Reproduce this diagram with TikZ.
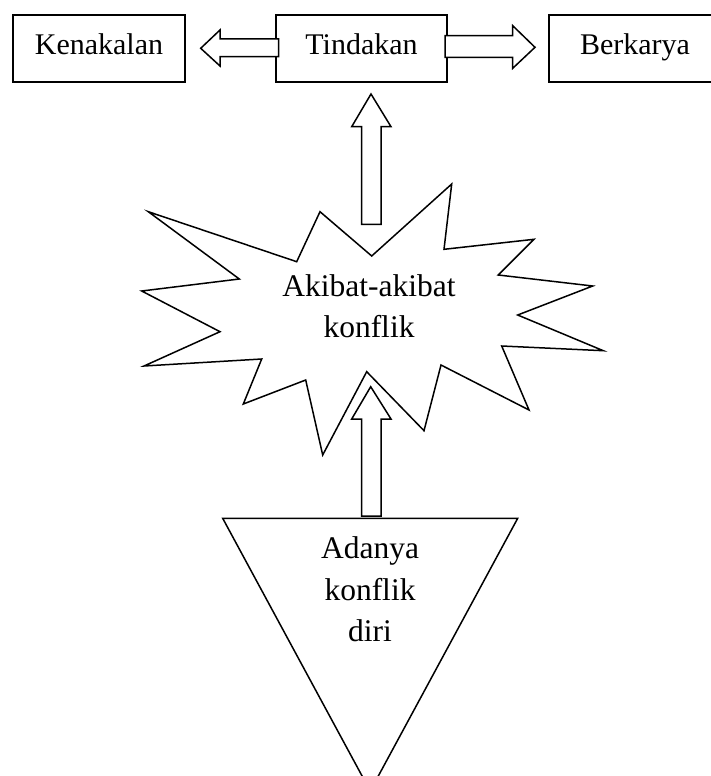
\documentclass[tikz,border=0pt]{standalone}
\usepackage{fontspec}
\setmainfont{Liberation Serif}
\begin{document}
\begin{tikzpicture}[x=1pt,y=-1pt,
  outline/.style={draw=black,line width=1.5pt,line join=miter},
  boxnode/.style={outline,minimum width=172pt,minimum height=67pt,inner sep=0pt,
    text height=20pt,text depth=7pt,
    font=\fontsize{30}{34}\selectfont},
  blockarrow/.style={outline,fill=white},
  lbl/.style={anchor=base,inner sep=0pt,font=\fontsize{31.5}{36}\selectfont}]
\useasboundingbox (0,0) rectangle (710,776);
\fill[white] (0,0) rectangle (710,776);

% top boxes
\node[boxnode] (ken) at (99,48.3) {Kenakalan};
\node[boxnode,minimum width=171pt] (tin) at (361.5,48.3) {Tindakan};
\node[boxnode] (ber) at (635,48.3) {Berkarya};

% left block arrow (Tindakan -> Kenakalan)
\draw[blockarrow] (278.7,39) -- (220,39) -- (220,30) -- (200.7,48.3) -- (220,66) -- (220,56.7) -- (278.7,56.7) -- cycle;
% right block arrow (Tindakan -> Berkarya)
\draw[blockarrow] (445,35.7) -- (512.7,35.7) -- (512.7,25.7) -- (535,47.3) -- (512.7,68.3) -- (512.7,57.3) -- (445,57.3) -- cycle;

% starburst
\draw[outline] (371.7,256) -- (451.7,184) -- (444,249.3) -- (534,239.3) -- (498.3,275)
  -- (592.7,286) -- (517.7,315) -- (603.3,350.7) -- (501.7,346) -- (529,410)
  -- (441,365) -- (424,430.7) -- (366.7,371.7) -- (322.7,455) -- (305.7,380)
  -- (243.3,404) -- (261.7,359) -- (144,366) -- (220,331.7) -- (141.7,291)
  -- (239.3,279) -- (148.3,211.7) -- (296.7,261.7) -- (320,211.7) -- cycle;
\node[lbl] (ak1) at (369,296.7) {Akibat-akibat};
\node[lbl] (ak2) at (369,337.7) {konflik};

% up arrow starburst -> Tindakan
\draw[blockarrow] (361.7,224.3) -- (361.7,126.7) -- (351.7,126.7) -- (371,94) -- (391,126.7) -- (381,126.7) -- (381,224.3) -- cycle;

% triangle
\draw[outline] (222.7,518.3) -- (517.7,518.3) -- (370.2,791) -- cycle;
\node[lbl] (ad1) at (370,558.3) {Adanya};
\node[lbl] (ad2) at (370,600.5) {konflik};
\node[lbl] (ad3) at (370,641.7) {diri};

% up arrow triangle -> starburst
\draw[blockarrow] (361.7,516) -- (361.7,419) -- (351.7,419) -- (370.7,386.7) -- (391,419) -- (381,419) -- (381,516) -- cycle;
\end{tikzpicture}
\end{document}
